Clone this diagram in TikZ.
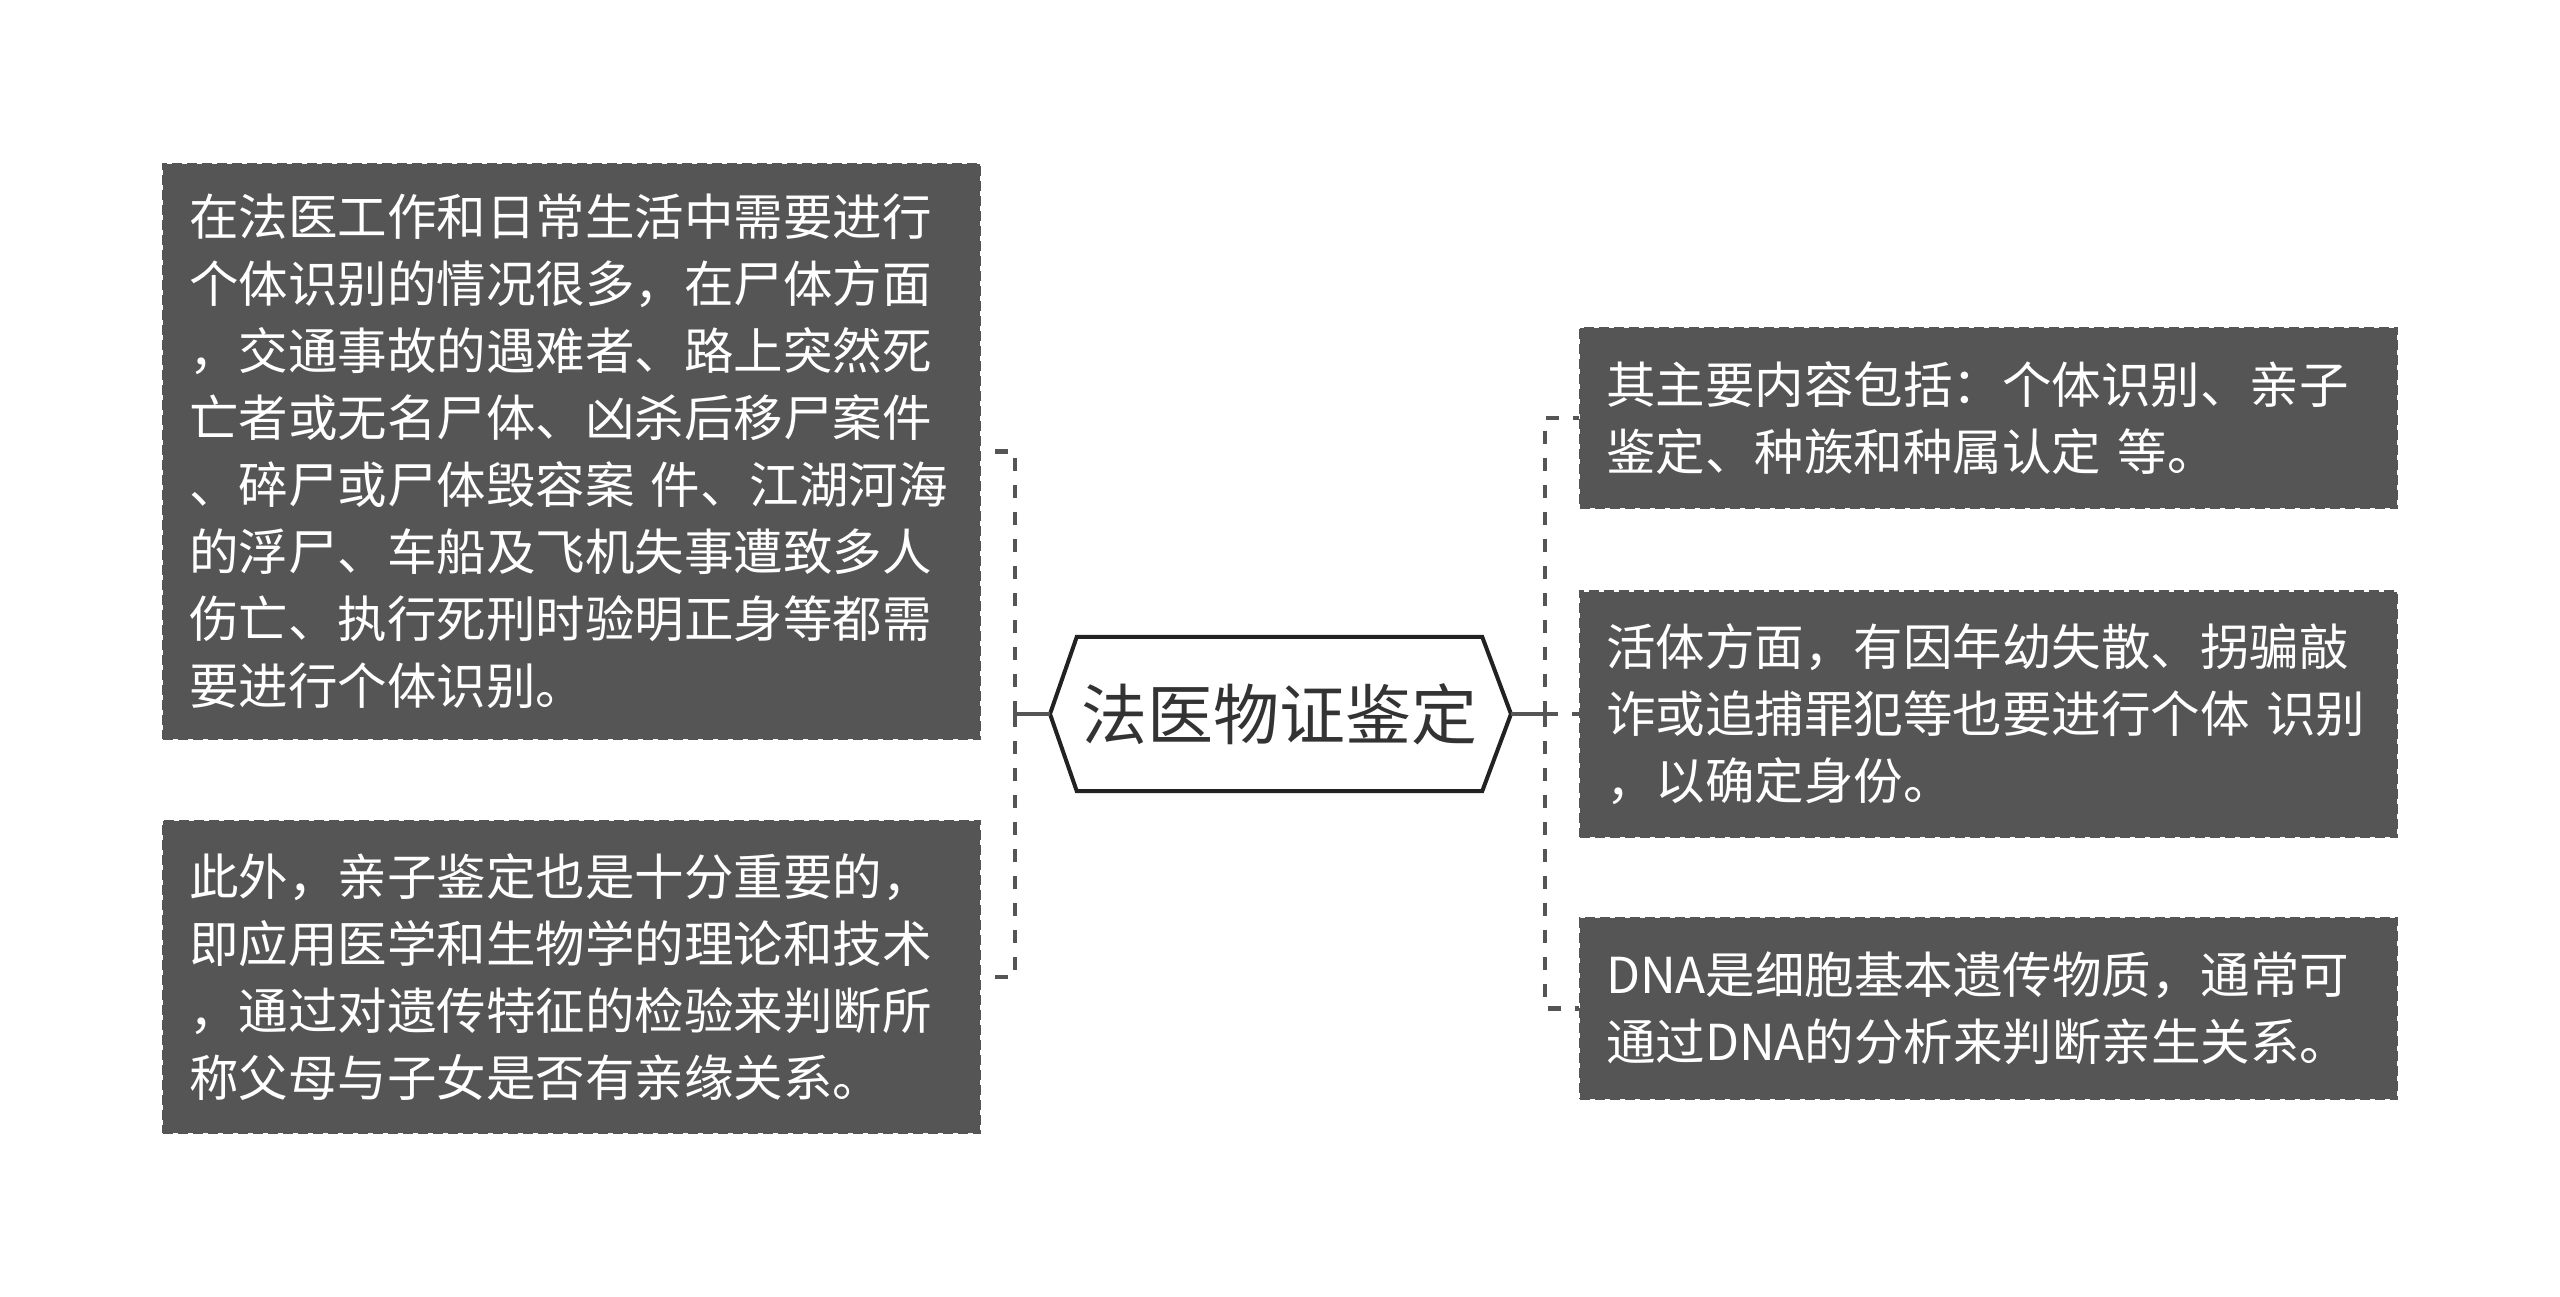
\documentclass[tikz,border=0pt]{standalone}
\usepackage{fontspec}
\setmainfont{Noto Sans CJK SC}
\definecolor{boxgray}{HTML}{555555}
\definecolor{linkgray}{HTML}{555555}
\definecolor{hexline}{HTML}{222222}
\definecolor{hextext}{HTML}{333333}
\tikzset{
  leaf/.style={rectangle, fill=boxgray, draw=boxgray, line width=2.5pt,
    dash pattern=on 10pt off 5pt, text=white, text width=775pt,
    inner xsep=21pt, inner ysep=0pt, align=left,
    font=\fontsize{49.5}{67}\selectfont},
  rootnode/.style={rectangle, minimum width=405pt, minimum height=154pt,
    inner sep=0pt, text=hextext, font=\fontsize{66}{80}\selectfont},
  hexborder/.style={draw=hexline, line width=4pt, line join=miter},
  link/.style={draw=linkgray, line width=4.5pt},
  dlink/.style={draw=linkgray, line width=4.5pt, dash pattern=on 13pt off 14pt},
}
\begin{document}
\begin{tikzpicture}[x=1pt,y=-1pt]
\useasboundingbox (0,0) rectangle (2560,1297);
\fill[white] (0,0) rectangle (2560,1297);

% root
\node[rootnode] (root) at (1279.5,714) {法医物证鉴定};
\coordinate (rootL) at (1050,714);
\coordinate (rootR) at (1511,714);
\draw[hexborder] (root.north west) -- (rootL) -- (root.south west)
  -- (root.south east) -- (rootR) -- (root.north east) -- cycle;

% left boxes
\node[leaf, minimum height=575pt] (L1) at (571.5,451.5) {\hspace*{5pt}在法医工作和日常生活中需要进行\\\hspace*{5pt}个体识别的情况很多，在尸体方面\\\hspace*{5pt}，交通事故的遇难者、路上突然死\\\hspace*{5pt}亡者或无名尸体、凶杀后移尸案件\\\hspace*{5pt}、碎尸或尸体毁容案 件、江湖河海\\\hspace*{5pt}的浮尸、车船及飞机失事遭致多人\\\hspace*{5pt}伤亡、执行死刑时验明正身等都需\\\hspace*{5pt}要进行个体识别。};
\node[leaf, minimum height=312pt] (L2) at (571.5,977) {\hspace*{5pt}此外，亲子鉴定也是十分重要的，\\\hspace*{5pt}即应用医学和生物学的理论和技术\\\hspace*{5pt}，通过对遗传特征的检验来判断所\\\hspace*{5pt}称父母与子女是否有亲缘关系。};

% right boxes
\node[leaf, minimum height=180pt] (R1) at (1988.5,418) {\hspace*{5pt}其主要内容包括：个体识别、亲子\\\hspace*{5pt}鉴定、种族和种属认定 等。};
\node[leaf, minimum height=245pt] (R2) at (1988.5,714) {\hspace*{5pt}活体方面，有因年幼失散、拐骗敲\\\hspace*{5pt}诈或追捕罪犯等也要进行个体 识别\\\hspace*{5pt}，以确定身份。};
\node[leaf, minimum height=181pt] (R3) at (1988.5,1008.5) {\hspace*{5pt}DNA是细胞基本遗传物质，通常可\\\hspace*{5pt}通过DNA的分析来判断亲生关系。};

% connectors
\coordinate (jL) at (1015,714);
\coordinate (jR) at (1545,714);
\draw[link] (rootL) -- (jL);
\draw[link] (rootR) -- (jR);
\draw[dlink] (jL) |- (L1.east);
\draw[dlink] (jL) |- (L2.east);
\draw[dlink] (jR) |- (R1.west);
\draw[dlink] (jR) -- (R2.west);
\draw[dlink] (jR) |- (R3.west);
\end{tikzpicture}
\end{document}
